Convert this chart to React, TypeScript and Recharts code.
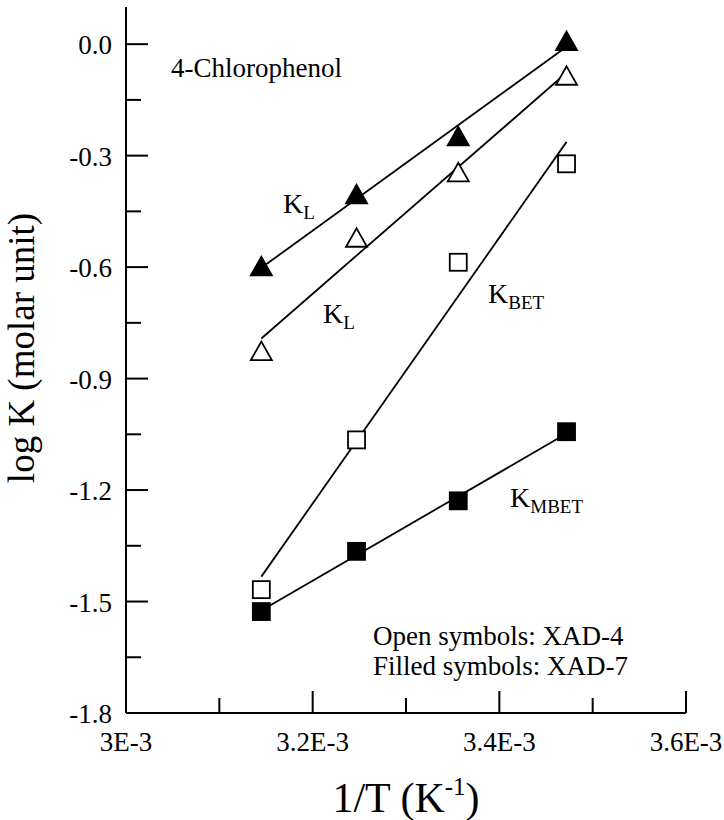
import { ComposedChart, Line, Scatter, XAxis, YAxis } from 'recharts';

// 1/T in units of 1E-3 K^-1 (45, 35, 25, 15 °C)
const invT = [3.145, 3.247, 3.356, 3.472];

// log K
const klXad7 = [-0.598, -0.404, -0.248, 0.008];
const klXad4 = [-0.826, -0.521, -0.345, -0.085];
const kbetXad4 = [-1.468, -1.065, -0.587, -0.322];
const kmbetXad7 = [-1.527, -1.365, -1.229, -1.043];

// fitted straight lines, end points
const fitX = [3.145, 3.472];
const klXad7Fit = [-0.602, -0.007];
const klXad4Fit = [-0.792, -0.077];
const kbetXad4Fit = [-1.433, -0.263];
const kmbetXad7Fit = [-1.524, -1.048];

const xTicks = [3.0, 3.1, 3.2, 3.3, 3.4, 3.5, 3.6];
const xTickLabels = ['3E-3', '', '3.2E-3', '', '3.4E-3', '', '3.6E-3'];
const yTicks = [-1.8, -1.65, -1.5, -1.35, -1.2, -1.05, -0.9, -0.75, -0.6, -0.45, -0.3, -0.15, 0];
const yTickLabels = ['-1.8', '', '-1.5', '', '-1.2', '', '-0.9', '', '-0.6', '', '-0.3', '', '0.0'];

const FONT = "'Liberation Serif', 'Times New Roman', serif";
const MAJOR = 22;
const MINOR = 15;

const toPoints = (xs: number[], ys: number[]) => xs.map((x, i) => ({ x, y: ys[i] }));

const triangle = (filled: boolean) => (props: any) => {
  const { cx, cy } = props;
  return (
    <polygon
      points={`${cx - 10.5},${cy + 9} ${cx + 10.5},${cy + 9} ${cx},${cy - 9.5}`}
      fill={filled ? '#000' : '#fff'}
      stroke="#000"
      strokeWidth={1.8}
      strokeLinejoin="miter"
    />
  );
};

const square = (filled: boolean) => (props: any) => {
  const { cx, cy } = props;
  return (
    <rect
      x={cx - 8.5}
      y={cy - 8.5}
      width={17}
      height={17}
      fill={filled ? '#000' : '#fff'}
      stroke="#000"
      strokeWidth={1.8}
    />
  );
};

const BottomTick = ({ x, y, index }: any) => {
  const label = xTickLabels[index];
  return (
    <g>
      <line x1={x} y1={y} x2={x} y2={y - (label ? MAJOR : MINOR)} stroke="#000" strokeWidth={2} />
      {label && (
        <text x={x} y={y + 38} textAnchor="middle" fontFamily={FONT} fontSize={27} fill="#000">
          {label}
        </text>
      )}
    </g>
  );
};

const TopTick = ({ x, y, index }: any) => (
  <line x1={x} y1={y} x2={x} y2={y + (xTickLabels[index] ? MAJOR : MINOR)} stroke="#000" strokeWidth={2} />
);

const LeftTick = ({ x, y, index }: any) => {
  const label = yTickLabels[index];
  return (
    <g>
      <line x1={x} y1={y} x2={x + (label ? MAJOR : MINOR)} y2={y} stroke="#000" strokeWidth={2} />
      {label && (
        <text x={x - 14} y={y + 1} textAnchor="end" dominantBaseline="central" fontFamily={FONT} fontSize={27} fill="#000">
          {label}
        </text>
      )}
    </g>
  );
};

const RightTick = ({ x, y, index }: any) => (
  <line x1={x} y1={y} x2={x - (yTickLabels[index] ? MAJOR : MINOR)} y2={y} stroke="#000" strokeWidth={2} />
);

const KLabel = ({ x, y, sub }: { x: number; y: number; sub: string }) => (
  <text x={x} y={y} fontFamily={FONT} fontSize={28} fill="#000">
    K
    <tspan fontSize={19} dy={6}>
      {sub}
    </tspan>
  </text>
);

const axisLine = { stroke: '#000', strokeWidth: 2 };

export default function App() {
  return (
    <div style={{ position: 'absolute', left: 0, top: 0, background: '#fff' }}>
      <ComposedChart width={724} height={820} margin={{ top: 7, right: 38, bottom: 57, left: 66 }}>
        <XAxis
          xAxisId={0}
          dataKey="x"
          type="number"
          domain={[3.0, 3.6]}
          ticks={xTicks}
          interval={0}
          height={50}
          tickSize={0}
          tickMargin={0}
          tickLine={false}
          axisLine={axisLine}
          tick={<BottomTick />}
        />
        <XAxis
          xAxisId="top"
          orientation="top"
          type="number"
          domain={[3.0, 3.6]}
          ticks={xTicks}
          interval={0}
          height={0}
          tickSize={0}
          tickMargin={0}
          tickLine={false}
          axisLine={axisLine}
          tick={<TopTick />}
        />
        <YAxis
          yAxisId={0}
          dataKey="y"
          type="number"
          domain={[-1.8, 0.1]}
          ticks={yTicks}
          interval={0}
          width={60}
          tickSize={0}
          tickMargin={0}
          tickLine={false}
          axisLine={axisLine}
          tick={<LeftTick />}
        />
        <YAxis
          yAxisId="right"
          orientation="right"
          type="number"
          domain={[-1.8, 0.1]}
          ticks={yTicks}
          interval={0}
          width={0}
          tickSize={0}
          tickMargin={0}
          tickLine={false}
          axisLine={axisLine}
          tick={<RightTick />}
        />

        <Line data={toPoints(fitX, klXad7Fit)} dataKey="y" stroke="#000" strokeWidth={1.8} dot={false} isAnimationActive={false} />
        <Line data={toPoints(fitX, klXad4Fit)} dataKey="y" stroke="#000" strokeWidth={1.8} dot={false} isAnimationActive={false} />
        <Line data={toPoints(fitX, kbetXad4Fit)} dataKey="y" stroke="#000" strokeWidth={1.8} dot={false} isAnimationActive={false} />
        <Line data={toPoints(fitX, kmbetXad7Fit)} dataKey="y" stroke="#000" strokeWidth={1.8} dot={false} isAnimationActive={false} />

        <Scatter data={toPoints(invT, klXad7)} dataKey="y" shape={triangle(true)} isAnimationActive={false} />
        <Scatter data={toPoints(invT, klXad4)} dataKey="y" shape={triangle(false)} isAnimationActive={false} />
        <Scatter data={toPoints(invT, kbetXad4)} dataKey="y" shape={square(false)} isAnimationActive={false} />
        <Scatter data={toPoints(invT, kmbetXad7)} dataKey="y" shape={square(true)} isAnimationActive={false} />

        <text x={171} y={77} fontFamily={FONT} fontSize={27} fill="#000">
          4-Chlorophenol
        </text>
        <KLabel x={283} y={213} sub="L" />
        <KLabel x={323} y={323} sub="L" />
        <KLabel x={488} y={303} sub="BET" />
        <KLabel x={510} y={507} sub="MBET" />
        <text x={373} y={645} fontFamily={FONT} fontSize={27} fill="#000">
          Open symbols: XAD-4
        </text>
        <text x={373} y={675} fontFamily={FONT} fontSize={27} fill="#000">
          Filled symbols: XAD-7
        </text>

        <text
          x={34}
          y={348}
          transform="rotate(-90, 34, 348)"
          textAnchor="middle"
          fontFamily={FONT}
          fontSize={37}
          fill="#000"
        >
          log K (molar unit)
        </text>
        <text x={406} y={812} textAnchor="middle" fontFamily={FONT} fontSize={42} fill="#000">
          1/T (K
          <tspan fontSize={25} dy={-17}>
            -1
          </tspan>
          <tspan dy={17}>)</tspan>
        </text>
      </ComposedChart>
    </div>
  );
}
